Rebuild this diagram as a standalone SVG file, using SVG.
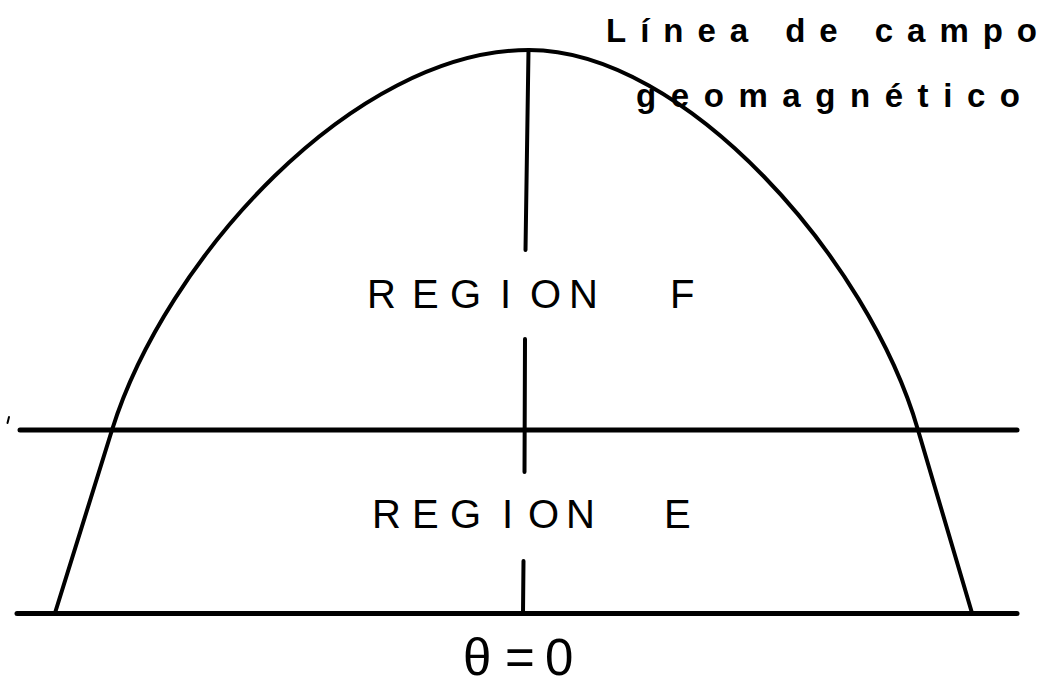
<svg xmlns="http://www.w3.org/2000/svg" width="1045" height="686" viewBox="0 0 1045 686">
  <style>
    .ln { fill: none; stroke: #000; stroke-linecap: round; stroke-linejoin: round; }
    .lbl { font-family: "Liberation Sans", Arial, sans-serif; fill: #000; }
    .reg { font-size: 40px; }
    .top { font-size: 33px; font-weight: bold; }
  </style>
  <rect width="1045" height="686" fill="#fff"/>
  <g id="field-line">
    <path class="ln" stroke-width="4" d="M 55 613 L 112 430 C 165 260 353 50 529 50 C 685 50 869 260 918 430 L 972 613"/>
  </g>
  <g id="connectors">
    <line class="ln" stroke-width="5" x1="20" y1="430" x2="1017" y2="430"/>
    <line class="ln" stroke-width="5" x1="17" y1="613.5" x2="1017" y2="613.5"/>
    <line class="ln" stroke-width="4" x1="528.5" y1="50" x2="525.5" y2="250"/>
    <line class="ln" stroke-width="4" x1="525" y1="339" x2="524.5" y2="472"/>
    <line class="ln" stroke-width="4" x1="523.5" y1="561" x2="523" y2="613"/>
    <line class="ln" stroke-width="2" x1="9" y1="417" x2="7.5" y2="423"/>
  </g>
  <g id="label-field">
    <text class="lbl top" x="606" y="42" textLength="431" lengthAdjust="spacing">Línea de campo</text>
    <text class="lbl top" x="636" y="107" textLength="384" lengthAdjust="spacing">geomagnético</text>
  </g>
  <g id="region-f">
    <text class="lbl reg" x="367 412 450 500 530 569 670" y="308">REGIONF</text>
  </g>
  <g id="region-e">
    <text class="lbl reg" x="372 412 450 502 528 566 664" y="528">REGIONE</text>
  </g>
  <g id="theta">
    <text class="lbl" font-size="51" x="463 505 545" y="675">θ=0</text>
  </g>
</svg>
